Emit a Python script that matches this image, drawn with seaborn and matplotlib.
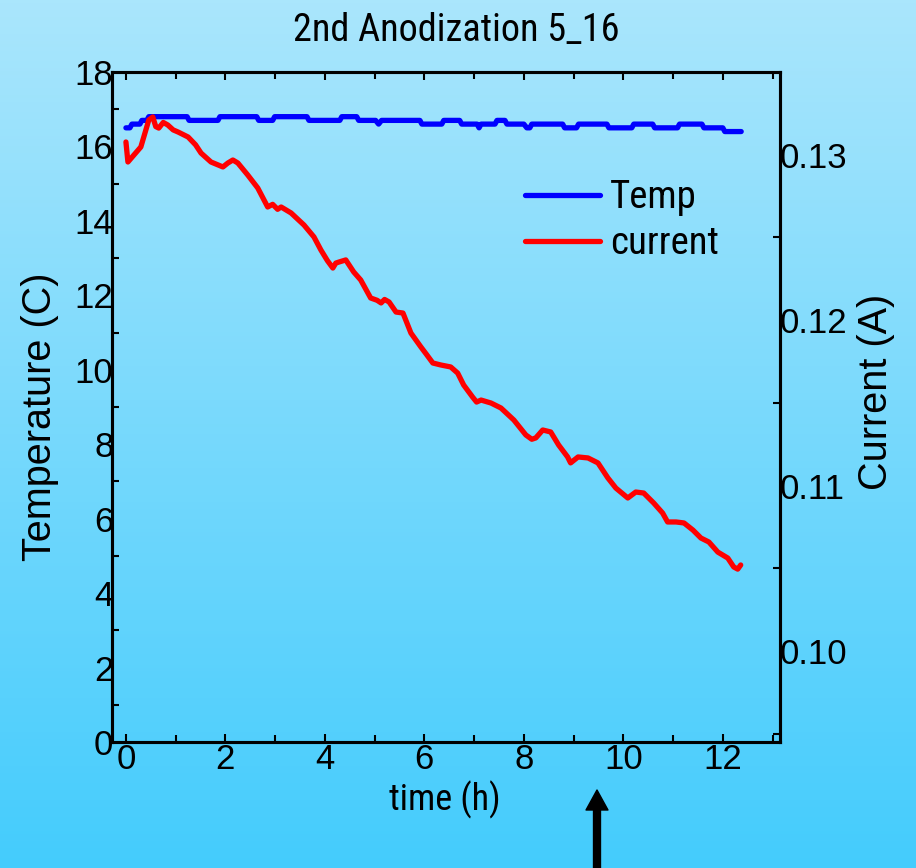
import numpy as np
import pandas as pd
import matplotlib
matplotlib.use("Agg")
import matplotlib.pyplot as plt
from matplotlib import font_manager
import seaborn as sns
from matplotlib.ticker import MultipleLocator, FixedLocator

# ---------------- data ----------------
temp_time = [0.0, 0.08, 0.12, 0.28, 0.32, 0.42, 0.46, 1.23, 1.27, 1.85, 1.89, 2.63, 2.67,
             2.95, 2.99, 3.64, 3.68, 4.30, 4.34, 4.64, 4.68, 5.02, 5.08, 5.14, 5.91, 5.95,
             6.35, 6.39, 6.71, 6.75, 7.06, 7.10, 7.14, 7.42, 7.46, 7.62, 7.66, 8.00, 8.06,
             8.12, 8.16, 8.78, 8.82, 9.06, 9.10, 9.67, 9.71, 10.17, 10.21, 10.59, 10.63,
             11.09, 11.13, 11.58, 11.62, 12.00, 12.04, 12.37]
temp_vals = [16.5, 16.5, 16.6, 16.6, 16.7, 16.7, 16.8, 16.8, 16.7, 16.7, 16.8, 16.8, 16.7,
             16.7, 16.8, 16.8, 16.7, 16.7, 16.8, 16.8, 16.7, 16.7, 16.6, 16.7, 16.7, 16.6,
             16.6, 16.7, 16.7, 16.6, 16.6, 16.5, 16.6, 16.6, 16.7, 16.7, 16.6, 16.6, 16.5,
             16.5, 16.6, 16.6, 16.5, 16.5, 16.6, 16.6, 16.5, 16.5, 16.6, 16.6, 16.5,
             16.5, 16.6, 16.6, 16.5, 16.5, 16.4, 16.4]

cur_time = [0.0, 0.04, 0.30, 0.46, 0.54, 0.60, 0.66, 0.75, 0.84, 0.95, 1.05, 1.25, 1.40, 1.51,
            1.71, 1.95, 2.05, 2.15, 2.25, 2.45, 2.65, 2.85, 2.95, 3.05, 3.12, 3.32, 3.58,
            3.78, 3.92, 4.05, 4.16, 4.22, 4.28, 4.42, 4.58, 4.72, 4.92, 5.05, 5.13, 5.20,
            5.29, 5.43, 5.57, 5.73, 5.93, 6.05, 6.17, 6.33, 6.53, 6.67, 6.79, 6.97, 7.05,
            7.14, 7.34, 7.54, 7.80, 8.04, 8.16, 8.24, 8.38, 8.54, 8.70, 8.88, 8.94, 9.09,
            9.29, 9.49, 9.69, 9.85, 10.09, 10.25, 10.41, 10.61, 10.79, 10.89, 11.06, 11.22,
            11.40, 11.56, 11.72, 11.90, 12.10, 12.22, 12.30, 12.36]
cur_vals = [0.13077, 0.12956, 0.13047, 0.13210, 0.13228, 0.13170, 0.13161, 0.13195, 0.13180,
            0.13150, 0.13137, 0.13107, 0.13060, 0.13010, 0.12956, 0.12926, 0.12950, 0.12968,
            0.12950, 0.12877, 0.12799, 0.12684, 0.12700, 0.12670, 0.12684, 0.12648, 0.12575,
            0.12503, 0.12424, 0.12360, 0.12315, 0.12345, 0.12351, 0.12364, 0.12291, 0.12243,
            0.12134, 0.12120, 0.12104, 0.12125, 0.12110, 0.12049, 0.12043, 0.11922, 0.11838,
            0.11790, 0.11741, 0.11729, 0.11717, 0.11680, 0.11608, 0.11535, 0.11505, 0.11517,
            0.11499, 0.11469, 0.11396, 0.11306, 0.11280, 0.11288, 0.11336, 0.11324, 0.11245,
            0.11173, 0.11137, 0.11173, 0.11167, 0.11137, 0.11046, 0.10985, 0.10925, 0.10961,
            0.10955, 0.10895, 0.10834, 0.10780, 0.10780, 0.10774, 0.10731, 0.10683, 0.10659,
            0.10598, 0.10562, 0.10508, 0.10495, 0.10520]

x_ticks = [0, 2, 4, 6, 8, 10, 12]
left_ticks = [0, 2, 4, 6, 8, 10, 12, 14, 16, 18]
right_ticks = [0.10, 0.11, 0.12, 0.13]
right_tick_labels = ["0.10", "0.11", "0.12", "0.13"]

title = "2nd Anodization 5_16"
series_names = ["Temp", "current"]

# ---------------- style ----------------
sns.set_theme(style="ticks")
plt.rcParams["font.family"] = ["Liberation Sans", "DejaVu Sans"]
plt.rcParams.update({"text.color": "black", "axes.labelcolor": "black",
                     "xtick.color": "black", "ytick.color": "black",
                     "axes.edgecolor": "black"})

# find a narrow sans font if one is installed
names = {f.name for f in font_manager.fontManager.ttflist}
narrow = None
for cand in ["Liberation Sans Narrow", "Arial Narrow", "Roboto Condensed",
             "Open Sans Condensed", "DejaVu Sans Condensed", "Noto Sans Condensed"]:
    if cand in names:
        narrow = cand
        break
if narrow is not None:
    NARROW = [narrow, "Liberation Sans", "DejaVu Sans"]
    TITLE_FS, XLAB_FS, LEG_FS = 27.5, 26, 28
else:
    NARROW = ["Liberation Sans", "DejaVu Sans"]
    TITLE_FS, XLAB_FS, LEG_FS = 24.5, 23.5, 24

W, H = 916, 868
fig = plt.figure(figsize=(W / 100, H / 100), dpi=100)

# gradient background
bg = fig.add_axes([0, 0, 1, 1], zorder=-10)
top_c = np.array([170, 230, 252]) / 255.0
bot_c = np.array([68, 204, 252]) / 255.0
tt = np.linspace(0, 1, 256)[:, None]
grad = top_c[None, :] * (1 - tt) + bot_c[None, :] * tt
bg.imshow(grad[:, None, :], aspect="auto", extent=[0, 1, 0, 1])
bg.axis("off")

L, R, T, B = 112, 780, 72, 742
ax = fig.add_axes([L / W, 1 - B / H, (R - L) / W, (B - T) / H])
ax.set_facecolor("none")

df_t = pd.DataFrame({"time": temp_time, "temp": temp_vals})
df_c = pd.DataFrame({"time": cur_time, "current": cur_vals})

sns.lineplot(data=df_t, x="time", y="temp", ax=ax, color="#0000FF", lw=3.8,
             sort=False, estimator=None, legend=False, solid_capstyle="round")
ax2 = ax.twinx()
ax2.set_position(ax.get_position())
sns.lineplot(data=df_c, x="time", y="current", ax=ax2, color="#FF0000", lw=3.8,
             sort=False, estimator=None, legend=False, solid_capstyle="round",
             solid_joinstyle="round")

ax.set_xlim(-0.28, 13.15)
ax.set_ylim(0, 18)
ax2.set_ylim(0.0945, 0.135)

TICK_FS = 25
ax.xaxis.set_major_locator(FixedLocator(x_ticks))
ax.xaxis.set_minor_locator(MultipleLocator(1))
ax.yaxis.set_major_locator(FixedLocator(left_ticks))
ax.yaxis.set_minor_locator(MultipleLocator(1))
ax.set_xticklabels([str(v) for v in x_ticks])
ax.set_yticklabels([str(v) for v in left_ticks])
ax2.yaxis.set_major_locator(FixedLocator(right_ticks))
ax2.yaxis.set_minor_locator(FixedLocator([0.095, 0.105, 0.115, 0.125]))
ax2.set_yticklabels(right_tick_labels)

ax.tick_params(axis="x", which="both", direction="in", top=True, labelsize=TICK_FS,
               pad=1, width=1.5, colors="black")
ax.tick_params(axis="x", which="major", length=6)
ax.tick_params(axis="x", which="minor", length=5)
ax.tick_params(axis="y", which="both", direction="in", right=False, labelsize=TICK_FS,
               pad=-1, width=1.5, colors="black")
ax.tick_params(axis="y", which="major", length=0)
ax.tick_params(axis="y", which="minor", length=5)
ax2.tick_params(axis="y", which="both", direction="in", labelsize=TICK_FS, pad=0,
                width=1.5, colors="black")
ax2.tick_params(axis="y", which="major", length=0)
ax2.tick_params(axis="y", which="minor", length=5)

for a in (ax, ax2):
    for s in a.spines.values():
        s.set_linewidth(2.2)
        s.set_color("black")
        s.set_visible(True)

# labels
ax.set_xlabel("time (h)", fontsize=XLAB_FS, family=NARROW, color="black")
ax.xaxis.label.set_va("center")
ax.xaxis.set_label_coords((445 - L) / (R - L), (B - 800) / (B - T))
ax.set_ylabel("Temperature (C)", fontsize=28.5, color="black")
ax.yaxis.label.set_va("center")
ax.yaxis.set_label_coords((40 - L) / (R - L), (B - 417) / (B - T))
ax2.set_ylabel("Current (A)", fontsize=28.5, rotation=90, color="black")
ax2.yaxis.label.set_va("center")
ax2.yaxis.set_label_coords((876 - L) / (R - L), (B - 392) / (B - T))

fig.text(456 / W, 1 - 30 / H, title, ha="center", va="center", fontsize=TITLE_FS,
         family=NARROW, color="black")

# legend
em = LEG_FS * 100 / 72.0
h1 = ax.get_lines()[0]
h2 = ax2.get_lines()[0]
leg = ax2.legend([h1, h2], series_names, loc="upper left",
                 bbox_to_anchor=(525 / W, 1 - (198 - 0.48 * em) / H),
                 bbox_transform=fig.transFigure,
                 frameon=False, borderpad=0, borderaxespad=0,
                 handlelength=75 / em, handletextpad=10 / em,
                 labelspacing=(46 - 0.95 * em) / em,
                 prop={"family": NARROW, "size": LEG_FS})
for t in leg.get_texts():
    t.set_color("black")

# arrow at the bottom
ax.annotate("", xy=(597, H - 790), xycoords="figure pixels",
            xytext=(597, -5), textcoords="figure pixels",
            arrowprops=dict(arrowstyle="simple,head_length=0.72,head_width=0.79,tail_width=0.25",
                            mutation_scale=20, color="black", shrinkA=0, shrinkB=0),
            annotation_clip=False)

fig.savefig("out.png", dpi=100)
